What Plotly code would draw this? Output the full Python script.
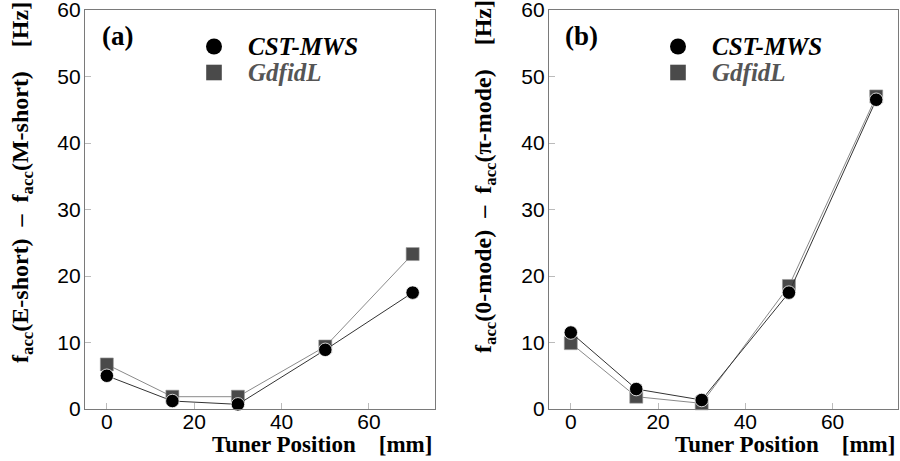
import plotly.graph_objects as go

# Tuner position [mm]
tuner_pos = [0, 15, 30, 50, 70]

# (a) f_acc(E-short) - f_acc(M-short) [Hz]
a_cst = [5.0, 1.2, 0.7, 8.9, 17.5]
a_gdfidl = [6.7, 1.85, 1.85, 9.4, 23.3]

# (b) f_acc(0-mode) - f_acc(pi-mode) [Hz]
b_cst = [11.5, 3.0, 1.35, 17.5, 46.5]
b_gdfidl = [9.9, 1.85, 0.85, 18.5, 47.0]

series_names = ["CST-MWS", "GdfidL"]
panel_labels = ["(a)", "(b)"]
y_titles = [
    "<b>f<sub>acc</sub>(E-short)  –  f<sub>acc</sub>(M-short)    [Hz]</b>",
    "<b>f<sub>acc</sub>(0-mode)  –  f<sub>acc</sub>(π-mode)    [Hz]</b>",
]
x_title = "<b>Tuner Position    [mm]</b>"

W, H = 900, 461
CST_COLOR = "#000000"
GDF_COLOR = "#4a4a4a"
SERIF = "Liberation Serif, Times New Roman, serif"
SANS = "Liberation Sans, Arial, sans-serif"

fig = go.Figure()

panels = [
    dict(xaxis="x", yaxis="y", cst=a_cst, gdf=a_gdfidl),
    dict(xaxis="x2", yaxis="y2", cst=b_cst, gdf=b_gdfidl),
]

for p in panels:
    fig.add_trace(go.Scatter(
        x=tuner_pos, y=p["gdf"], mode="lines+markers", name=series_names[1],
        xaxis=p["xaxis"], yaxis=p["yaxis"], cliponaxis=False, showlegend=False,
        line=dict(color="#8a8a8a", width=1),
        marker=dict(symbol="square", size=13, color=GDF_COLOR,
                    line=dict(color="#9a9a9a", width=0.6)),
    ))
    fig.add_trace(go.Scatter(
        x=tuner_pos, y=p["cst"], mode="lines+markers", name=series_names[0],
        xaxis=p["xaxis"], yaxis=p["yaxis"], cliponaxis=False, showlegend=False,
        line=dict(color="#333333", width=1),
        marker=dict(symbol="circle", size=13.5, color=CST_COLOR,
                    line=dict(color="#ffffff", width=0.8)),
    ))

x_domains = [[85 / W, 434.5 / W], [549 / W, 898 / W]]
y_domain = [1 - 409 / H, 1 - 10 / H]

axis_common = dict(
    showgrid=False, zeroline=False, showline=True, mirror=True,
    linecolor="#7a7a7a", linewidth=1.3, automargin=False,
    ticks="inside", ticklen=6, tickwidth=1, tickcolor="#bbbbbb",
    tickfont=dict(family=SANS, size=21, color="#000000"),
    ticklabeloverflow="allow",
)

layout = dict(
    width=W, height=H, margin=dict(l=0, r=0, t=0, b=0, autoexpand=False),
    paper_bgcolor="white", plot_bgcolor="white", showlegend=False,
)
for i, xd in enumerate(x_domains):
    sfx = "" if i == 0 else "2"
    layout["xaxis" + sfx] = dict(axis_common, domain=xd, range=[-5, 75],
                                 tickvals=[0, 20, 40, 60], ticklabelstandoff=-6,
                                 anchor="y" + sfx)
    layout["yaxis" + sfx] = dict(axis_common, domain=y_domain, range=[0, 60],
                                 tickvals=[0, 10, 20, 30, 40, 50, 60],
                                 ticklabelstandoff=-1, anchor="x" + sfx)
fig.update_layout(**layout)

annotations = []
shapes = []
title_centers = [(22, 183), (485, 177)]
for i, xd in enumerate(x_domains):
    left = xd[0] * W
    right = xd[1] * W
    # panel label
    annotations.append(dict(
        text="<b>" + panel_labels[i] + "</b>", xref="paper", yref="paper",
        x=(left + 32) / W, y=1 - 36 / H, xanchor="center", yanchor="middle",
        showarrow=False, font=dict(family=SERIF, size=27, color="#000000"),
    ))
    # y-axis title
    cx, cy = title_centers[i]
    annotations.append(dict(
        text=y_titles[i], xref="paper", yref="paper", textangle=-90,
        x=cx / W, y=1 - cy / H, xanchor="center", yanchor="middle",
        showarrow=False, font=dict(family=SERIF, size=24, color="#000000"),
    ))
    # x-axis title
    annotations.append(dict(
        text=x_title, xref="paper", yref="paper",
        x=(right - 1) / W, y=1 - 444 / H, xanchor="right", yanchor="middle",
        showarrow=False, font=dict(family=SERIF, size=23, color="#000000"),
    ))
    # legend keys
    kx = left + 129
    shapes.append(dict(
        type="circle", xref="paper", yref="paper", xsizemode="pixel",
        ysizemode="pixel", xanchor=kx / W, yanchor=1 - 46.5 / H,
        x0=-8, x1=8, y0=-8, y1=8, fillcolor=CST_COLOR, line=dict(width=0),
    ))
    shapes.append(dict(
        type="rect", xref="paper", yref="paper", xsizemode="pixel",
        ysizemode="pixel", xanchor=kx / W, yanchor=1 - 72.5 / H,
        x0=-7.8, x1=7.8, y0=-7.8, y1=7.8, fillcolor=GDF_COLOR, line=dict(width=0),
    ))
    annotations.append(dict(
        text="<b><i>" + series_names[0] + "</i></b>", xref="paper", yref="paper",
        x=(kx + 32) / W, y=1 - 46 / H, xanchor="left", yanchor="middle",
        showarrow=False, font=dict(family=SERIF, size=25, color="#000000"),
    ))
    annotations.append(dict(
        text="<b><i>" + series_names[1] + "</i></b>", xref="paper", yref="paper",
        x=(kx + 32) / W, y=1 - 73 / H, xanchor="left", yanchor="middle",
        showarrow=False, font=dict(family=SERIF, size=25, color="#555555"),
    ))

fig.update_layout(annotations=annotations, shapes=shapes)
fig.write_html("out.html")
